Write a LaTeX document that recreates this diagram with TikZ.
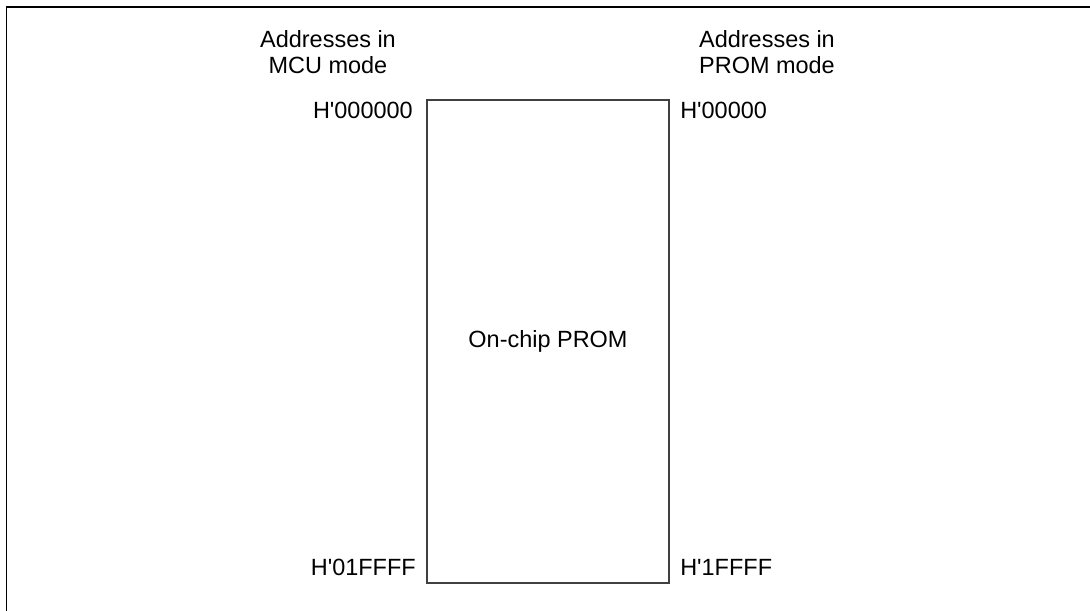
\documentclass[tikz,border=0pt]{standalone}
\usepackage{fontspec}
\setmainfont{Liberation Sans}
\begin{document}
\begin{tikzpicture}[x=0.75pt,y=-0.75pt,
  lbl/.style={inner sep=0pt,font=\fontsize{17.6}{19.5}\selectfont},
  head/.style={lbl,align=center,anchor=north},
  mem/.style={draw=black!75,line width=0.8pt}]
\useasboundingbox (0,0) rectangle (1090,611);
\draw[line width=1pt] (6.5,611) -- (6.5,7) -- (1090,7);
\draw[mem] (427,100) rectangle (669,583);
\node[lbl] (prom) at (548,341) {On-chip PROM};
\node[head] (mcu) at (328,30) {Addresses in\\MCU mode};
\node[head] (pm) at (767,30) {Addresses in\\PROM mode};
\node[lbl,anchor=base east] (a0) at (413,118) {H\textquotesingle 000000};
\node[lbl,anchor=base west] (b0) at (680,118) {H\textquotesingle 00000};
\node[lbl,anchor=base east] (a1) at (416,575) {H\textquotesingle 01FFFF};
\node[lbl,anchor=base west] (b1) at (680,575) {H\textquotesingle 1FFFF};
\end{tikzpicture}
\end{document}
